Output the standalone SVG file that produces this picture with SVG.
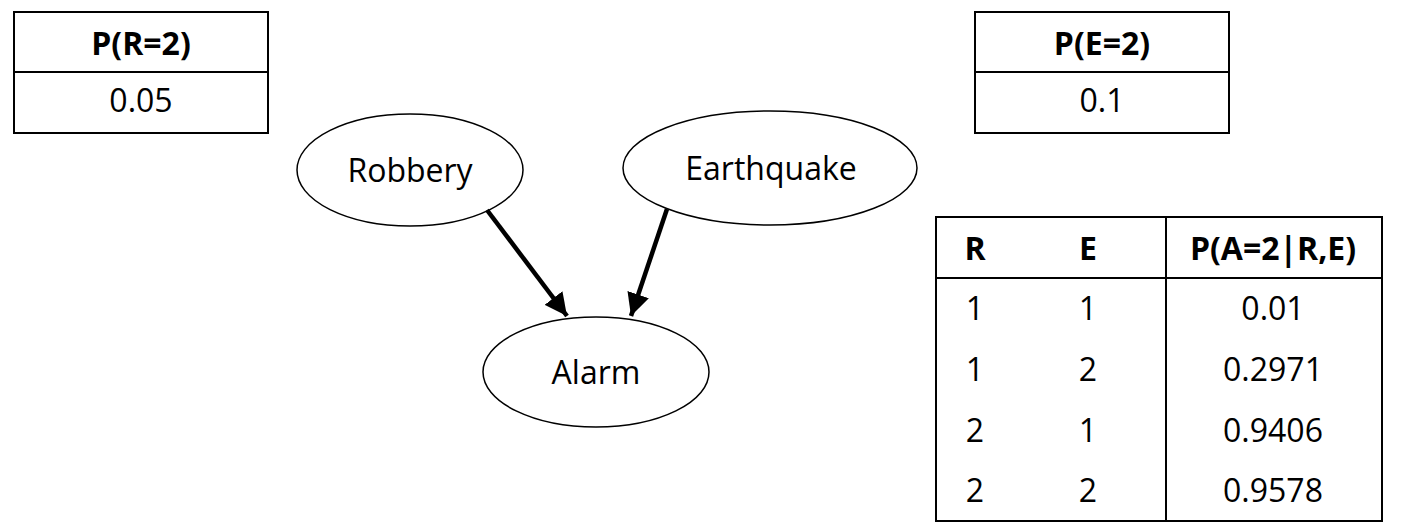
<svg xmlns="http://www.w3.org/2000/svg" width="1406" height="529" viewBox="0 0 1406 529">
<style>
  .bg{fill:#ffffff}
  .tbl{fill:#ffffff;stroke:#000;stroke-width:2}
  .ln{stroke:#000;stroke-width:2;fill:none}
  .node{fill:#ffffff;stroke:#000;stroke-width:1.5}
  text{font-family:"Open Sans","Noto Sans","Liberation Sans",sans-serif;font-size:32px;fill:#000}
  .b{font-weight:700}
  .c{text-anchor:middle}
  .edge{stroke:#000;stroke-width:4.5;fill:none}
</style>
<defs>
  <marker id="arrow" viewBox="0 0 10 10" refX="10" refY="5" markerWidth="5" markerHeight="5" markerUnits="strokeWidth" orient="auto">
    <path d="M0,0 L10,5 L0,10 z" fill="#000"/>
  </marker>
</defs>
<rect class="bg" x="0" y="0" width="1406" height="529"/>

<g id="table-R">
  <rect class="tbl" x="14" y="12" width="254" height="121"/>
  <line class="ln" x1="14" y1="72" x2="268" y2="72"/>
  <text class="b c" x="141" y="55">P(R=2)</text>
  <text class="c" x="141" y="112">0.05</text>
</g>

<g id="table-E">
  <rect class="tbl" x="975" y="12" width="254" height="121"/>
  <line class="ln" x1="975" y1="72" x2="1229" y2="72"/>
  <text class="b c" x="1102" y="55">P(E=2)</text>
  <text class="c" x="1102" y="112">0.1</text>
</g>

<g id="table-A">
  <rect class="tbl" x="936" y="217" width="446" height="304"/>
  <line class="ln" x1="936" y1="278" x2="1382" y2="278"/>
  <line class="ln" x1="1166" y1="217" x2="1166" y2="521"/>
  <text class="b c" x="975" y="260">R</text>
  <text class="b c" x="1088" y="260">E</text>
  <text class="b c" x="1273" y="260">P(A=2|R,E)</text>
  <text class="c" x="975" y="320">1</text>
  <text class="c" x="1088" y="320">1</text>
  <text class="c" x="1273" y="320">0.01</text>
  <text class="c" x="975" y="381">1</text>
  <text class="c" x="1088" y="381">2</text>
  <text class="c" x="1273" y="381">0.2971</text>
  <text class="c" x="975" y="442">2</text>
  <text class="c" x="1088" y="442">1</text>
  <text class="c" x="1273" y="442">0.9406</text>
  <text class="c" x="975" y="502">2</text>
  <text class="c" x="1088" y="502">2</text>
  <text class="c" x="1273" y="502">0.9578</text>
</g>

<g id="node-robbery">
  <ellipse class="node" cx="410" cy="170" rx="113" ry="56"/>
  <text class="c" x="410" y="182">Robbery</text>
</g>

<g id="node-earthquake">
  <ellipse class="node" cx="770" cy="168" rx="147" ry="57"/>
  <text class="c" x="771" y="180">Earthquake</text>
</g>

<g id="node-alarm">
  <ellipse class="node" cx="596" cy="372" rx="113" ry="55"/>
  <text class="c" x="596" y="384">Alarm</text>
</g>

<g id="connectors">
  <line class="edge" x1="487" y1="210" x2="567" y2="316" marker-end="url(#arrow)"/>
  <line class="edge" x1="667" y1="209" x2="631" y2="316" marker-end="url(#arrow)"/>
</g>
</svg>
